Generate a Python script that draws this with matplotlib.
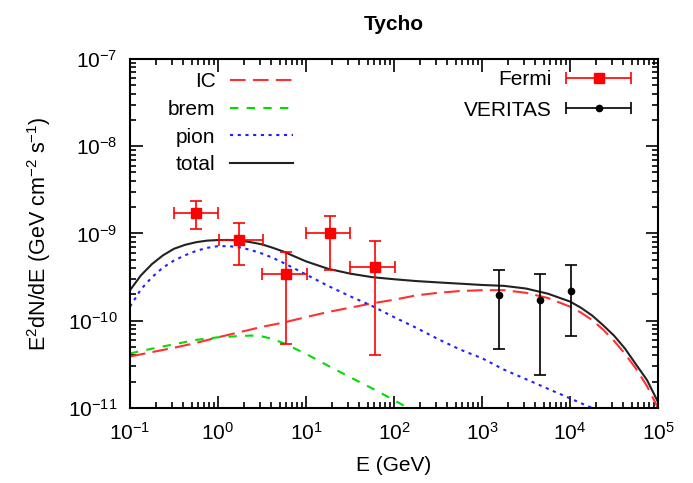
import numpy as np
import matplotlib
matplotlib.use("Agg")
import matplotlib.pyplot as plt
from matplotlib.ticker import LogLocator, FixedLocator, FuncFormatter, NullFormatter
from matplotlib.legend_handler import HandlerErrorbar

plt.rcParams['font.family'] = ['Liberation Sans', 'DejaVu Sans']
plt.rcParams['mathtext.default'] = 'regular'

# model curves, E in GeV and E^2 dN/dE in GeV cm^-2 s^-1
total_e = [0.1, 0.133, 0.178, 0.237, 0.316, 0.422, 0.562, 0.75, 1.0, 1.33, 1.78,
           2.37, 3.16, 4.22, 5.62, 7.5, 10, 17.8, 31.6, 56.2, 100, 178, 316, 562,
           1e3, 1.78e3, 3.16e3, 5.62e3, 1e4, 1.33e4, 1.78e4, 2.37e4, 3.16e4,
           4.22e4, 5.62e4, 7.5e4, 1e5]
total_f = [2.24e-10, 3.31e-10, 4.47e-10, 5.62e-10, 6.68e-10, 7.41e-10, 7.94e-10,
           8.28e-10, 8.41e-10, 8.43e-10, 8.32e-10, 7.94e-10, 7.50e-10, 6.84e-10,
           6.17e-10, 5.43e-10, 4.79e-10, 3.94e-10, 3.47e-10, 3.16e-10, 2.99e-10,
           2.85e-10, 2.75e-10, 2.66e-10, 2.57e-10, 2.51e-10, 2.34e-10, 2.04e-10,
           1.66e-10, 1.41e-10, 1.15e-10, 8.91e-11, 6.76e-11, 4.79e-11, 3.16e-11,
           2.09e-11, 1.17e-11]

ic_e = [0.1, 0.178, 0.316, 0.562, 1.0, 1.78, 3.16, 5.62, 10, 17.8, 31.6, 56.2,
        100, 178, 316, 562, 1e3, 1.78e3, 3.16e3, 5.62e3, 1e4, 1.33e4, 1.78e4,
        2.37e4, 3.16e4, 4.22e4, 5.62e4, 7.5e4, 1e5]
ic_f = [3.89e-11, 4.37e-11, 4.90e-11, 5.56e-11, 6.46e-11, 7.41e-11, 8.51e-11,
        9.55e-11, 1.10e-10, 1.26e-10, 1.41e-10, 1.58e-10, 1.74e-10, 1.95e-10,
        2.09e-10, 2.19e-10, 2.24e-10, 2.24e-10, 2.09e-10, 1.82e-10, 1.45e-10,
        1.24e-10, 1.02e-10, 7.94e-11, 5.89e-11, 4.17e-11, 2.82e-11, 1.78e-11,
        1.0e-11]

pion_e = [0.1, 0.133, 0.178, 0.237, 0.316, 0.422, 0.562, 0.75, 1.0, 1.33, 1.78,
          2.37, 3.16, 4.22, 5.62, 7.5, 10, 17.8, 31.6, 56.2, 100, 178, 316, 562,
          1e3, 1.78e3, 3.16e3, 5.62e3, 1e4, 1.78e4, 3.16e4]
pion_f = [1.45e-10, 2.29e-10, 3.16e-10, 4.07e-10, 4.90e-10, 5.62e-10, 6.31e-10,
          6.84e-10, 7.16e-10, 7.16e-10, 6.92e-10, 6.46e-10, 5.89e-10, 5.25e-10,
          4.57e-10, 3.94e-10, 3.39e-10, 2.51e-10, 1.91e-10, 1.48e-10, 1.10e-10,
          8.32e-11, 6.17e-11, 4.68e-11, 3.72e-11, 2.75e-11, 2.14e-11, 1.66e-11,
          1.29e-11, 1.0e-11, 7.6e-12]

brem_e = [0.1, 0.178, 0.316, 0.562, 1.0, 1.78, 2.37, 3.16, 4.22, 5.62, 10, 17.8,
          31.6, 56.2, 100, 178]
brem_f = [4.22e-11, 4.79e-11, 5.37e-11, 6.03e-11, 6.46e-11, 6.68e-11, 6.76e-11,
          6.61e-11, 6.17e-11, 5.50e-11, 4.17e-11, 3.05e-11, 2.26e-11, 1.68e-11,
          1.23e-11, 8.9e-12]

# Fermi points with bar ends
fermi_e = [0.56, 1.75, 6.0, 18.7, 61]
fermi_e_lo = [0.32, 1.02, 3.2, 10.0, 31.6]
fermi_e_hi = [1.0, 3.27, 10.2, 32, 102]
fermi_f = [1.73e-9, 8.4e-10, 3.4e-10, 1.0e-9, 4.17e-10]
fermi_f_lo = [1.12e-9, 4.3e-10, 5.4e-11, 3.8e-10, 4.1e-11]
fermi_f_hi = [2.35e-9, 1.33e-9, 6.2e-10, 1.58e-9, 8.1e-10]

# VERITAS points
veritas_e = [1550, 4560, 10260]
veritas_f = [1.97e-10, 1.73e-10, 2.17e-10]
veritas_f_lo = [4.7e-11, 2.37e-11, 6.7e-11]
veritas_f_hi = [3.78e-10, 3.47e-10, 4.35e-10]

x_ticks = [1e-1, 1e0, 1e1, 1e2, 1e3, 1e4, 1e5]
y_ticks = [1e-11, 1e-10, 1e-9, 1e-8, 1e-7]

fig = plt.figure(figsize=(6.93, 4.83), dpi=100)
ax = fig.add_axes([0.1876, 0.1553, 0.7619, 0.7226])

lw = 1.5
l_ic, = ax.plot(ic_e, ic_f, color='#ff3030', lw=lw, dashes=(7.5, 3.5))
l_brem, = ax.plot(brem_e, brem_f, color='#00dd00', lw=lw, dashes=(4, 4))
l_pion, = ax.plot(pion_e, pion_f, color='#2020ff', lw=lw, dashes=(1.5, 2.2))
l_tot, = ax.plot(total_e, total_f, color='#222222', lw=lw)

fe = np.array(fermi_e)
ff = np.array(fermi_f)
ax.errorbar(fe, ff,
            xerr=[fe - np.array(fermi_e_lo), np.array(fermi_e_hi) - fe],
            yerr=[ff - np.array(fermi_f_lo), np.array(fermi_f_hi) - ff],
            fmt='s', color='red', ms=6.5, elinewidth=1.2, capsize=4, capthick=1.2)
ve = np.array(veritas_e)
vf = np.array(veritas_f)
ax.errorbar(ve, vf,
            yerr=[vf - np.array(veritas_f_lo), np.array(veritas_f_hi) - vf],
            fmt='o', color='black', ms=4.5, elinewidth=1.2, capsize=4, capthick=1.2)

# legend proxies: horizontal bar only
p_fermi = ax.errorbar([np.nan], [np.nan], xerr=[1], fmt='s', color='red', ms=6.5,
                      elinewidth=1.2, capsize=4, capthick=1.2)
p_ver = ax.errorbar([np.nan], [np.nan], xerr=[1], fmt='o', color='black', ms=4.5,
                    elinewidth=1.2, capsize=4, capthick=1.2)

ax.set_xscale('log')
ax.set_yscale('log')
ax.set_xlim(x_ticks[0], x_ticks[-1])
ax.set_ylim(y_ticks[0], y_ticks[-1])


def pow_fmt(v, pos):
    return r'$10^{%d}$' % int(round(np.log10(v)))


ax.xaxis.set_major_locator(FixedLocator(x_ticks))
ax.yaxis.set_major_locator(FixedLocator(y_ticks))
for axis in (ax.xaxis, ax.yaxis):
    axis.set_minor_locator(LogLocator(base=10, subs=np.arange(2, 10), numticks=20))
    axis.set_major_formatter(FuncFormatter(pow_fmt))
    axis.set_minor_formatter(NullFormatter())

ax.tick_params(which='both', direction='in', top=True, right=True, labelsize=15, width=1.2)
ax.tick_params(which='major', length=9)
ax.tick_params(which='minor', length=4.5)
ax.tick_params(axis='x', which='major', pad=10)
ax.tick_params(axis='y', which='major', pad=9)
for s in ax.spines.values():
    s.set_linewidth(1.5)

ax.set_xlabel('E (GeV)', fontsize=15, labelpad=9)
ax.set_ylabel(r'E$^2$dN/dE (GeV cm$^{-2}$ s$^{-1}$)', fontsize=15.5, labelpad=11)
ax.set_title('Tycho', fontsize=15, fontweight='bold', pad=21)

leg1 = ax.legend([l_ic, l_brem, l_pion, l_tot], ['IC', 'brem', 'pion', 'total'],
                 loc='upper right', bbox_to_anchor=(0.308, 0.962), frameon=False,
                 markerfirst=False, fontsize=15, handlelength=3.0, handletextpad=0.7,
                 labelspacing=0.42, borderpad=0, borderaxespad=0)
ax.add_artist(leg1)
ax.legend([p_fermi, p_ver], ['Fermi', 'VERITAS'],
          loc='upper right', bbox_to_anchor=(0.949, 0.968), frameon=False,
          markerfirst=False, fontsize=15, handlelength=3.1, handletextpad=0.7,
          labelspacing=0.55, borderpad=0, borderaxespad=0,
          handler_map={type(p_fermi): HandlerErrorbar(xerr_size=1.55)})

fig.savefig('out.png', dpi=100)
